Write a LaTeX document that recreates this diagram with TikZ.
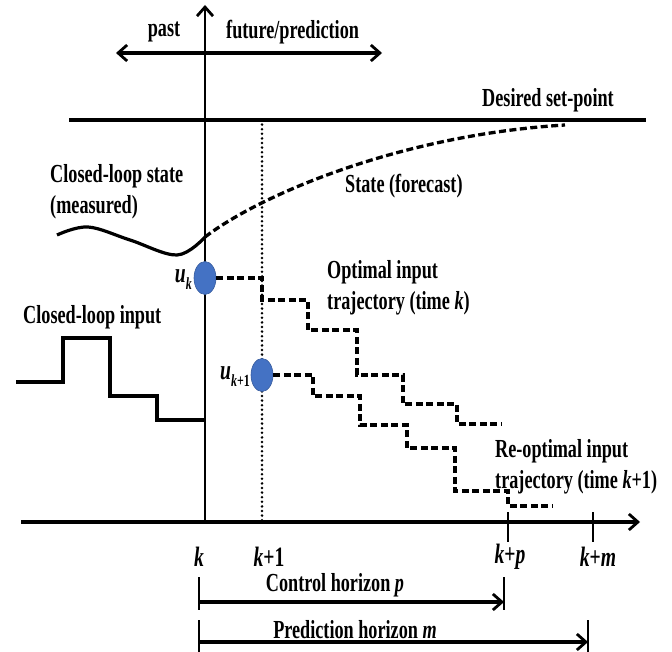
\documentclass[tikz,border=0pt]{standalone}
\usepackage{fontspec}
\setmainfont{Liberation Serif}[FakeStretch=0.7]
\usetikzlibrary{arrows.meta}
\usetikzlibrary{shapes.geometric}
\definecolor{dotblue}{RGB}{68,114,196}
\newcommand{\subtxt}[1]{\raisebox{-0.55ex}{\fontsize{17}{17}\selectfont #1}}
\tikzset{
  lbl/.style={inner sep=0pt, font=\fontsize{26}{31}\selectfont\bfseries, align=left},
  axlbl/.style={inner sep=0pt, font=\fontsize{28}{30}\selectfont\bfseries},
  axisline/.style={line width=3.4pt},
  thinaxis/.style={line width=2.5pt},
  solidcurve/.style={line width=3.2pt},
  dashcurve/.style={line width=3.3pt, dash pattern=on 7pt off 3.5pt},
  trajdash/.style={line width=3.2pt, dash pattern=on 7pt off 3.5pt},
  dotline/.style={line width=2.8pt, line cap=round, dash pattern=on 0pt off 4.6pt},
  tip/.style={-{Straight Barb[length=9pt,width=16pt,line width=2.8pt]}},
  dtip/.style={{Straight Barb[length=9pt,width=16pt,line width=2.8pt]}-{Straight Barb[length=9pt,width=16pt,line width=2.8pt]}},
  udot/.style={ellipse, fill=dotblue, draw=dotblue!80!black, line width=0.6pt, minimum width=22pt, minimum height=33pt, inner sep=0pt},
}
\begin{document}
\begin{tikzpicture}[x=1pt,y=-1pt]
\useasboundingbox (0,0) rectangle (672,652);
% coordinates
\coordinate (origin) at (205,522);
\coordinate (vtop) at (205,5);
\coordinate (hleft) at (21,522);
\coordinate (hright) at (640,522);
\coordinate (pastL) at (116,53);
\coordinate (futR) at (382,53);
\coordinate (spL) at (69,120);
\coordinate (spR) at (646,120);
\coordinate (dotT) at (262,120);
\coordinate (dotB) at (262,522);
\coordinate (tpT) at (508,512);
\coordinate (tpB) at (508,542);
\coordinate (tmT) at (593,512);
\coordinate (tmB) at (593,542);

% axes
\draw[axisline, tip] (hleft) -- (hright);
\draw[thinaxis, tip] (origin) -- (vtop);
\draw[axisline, dtip] (pastL) -- (futR);
\draw[axisline] (spL) -- (spR);
\draw[dotline] (dotT) -- (dotB);
\draw[thinaxis] (tpT) -- (tpB);
\draw[thinaxis] (tmT) -- (tmB);

% state curves
\draw[solidcurve] plot[smooth, tension=0.6] coordinates {(57,235) (88,227) (130,240) (177,255) (205,237)};
\draw[dashcurve] (205,237) .. controls (260,195) and (400,135) .. (565,125);

% closed-loop input
\draw[solidcurve] (16,382) -- (63,382) -- (63,338) -- (110,338) -- (110,396) -- (157,396) -- (157,420) -- (205,420);

% input dots
\node[udot] (uk) at (205,278) {};
\node[udot] (uk1) at (262,375) {};

% optimal trajectory (time k)
\draw[trajdash] (uk.east) -- (262,278) -- (262,300) -- (308,300) -- (308,330) -- (357,330) -- (357,375) -- (403,375) -- (403,404) -- (457,404) -- (457,424) -- (502,424);
% re-optimal trajectory (time k+1)
\draw[trajdash] (uk1.east) -- (313,375) -- (313,396) -- (360,396) -- (360,425) -- (407,425) -- (407,448) -- (455,448) -- (455,491) -- (508,491) -- (508,506) -- (553,506);

% texts
\node[lbl] (past) at (164,32) {past};
\node[lbl, anchor=west] (future) at (226,32) {future/prediction};
\node[lbl, anchor=east] (setpt) at (614,100) {Desired set-point};
\node[lbl, anchor=west] (cls) at (50,192) {Closed-loop state\\(measured)};
\node[lbl, anchor=west] (fc) at (345,186) {State (forecast)};
\node[lbl, anchor=west] (opt) at (327,288) {Optimal input\\trajectory (time \textit{k})};
\node[lbl, anchor=west] (reopt) at (495,467) {Re-optimal input\\trajectory (time \textit{k}+1)};
\node[lbl, anchor=west] (cli) at (23,317) {Closed-loop input};
\node[axlbl, anchor=east] (ukl) at (192,280) {\textit{u}\subtxt{\textit{k}}};
\node[axlbl, anchor=east] (uk1l) at (250,377) {\textit{u}\subtxt{\textit{k}+1}};

\node[axlbl] (lk) at (199,557) {\textit{k}};
\node[axlbl] (lk1) at (269,557) {\textit{k}+1};
\node[axlbl] (lkp) at (510,557) {\textit{k}+\textit{p}};
\node[axlbl] (lkm) at (598,557) {\textit{k}+\textit{m}};

% horizons
\coordinate (chT) at (199,577);
\coordinate (chB) at (199,610);
\coordinate (chA) at (199,602);
\coordinate (chE) at (504,602);
\coordinate (chET) at (504,577);
\coordinate (chEB) at (504,610);
\draw[thinaxis] (chT) -- (chB);
\draw[thinaxis] (chET) -- (chEB);
\draw[axisline, tip] (chA) -- (chE);
\node[lbl] (ch) at (335,585) {Control horizon \textit{p}};

\coordinate (phT) at (199,620);
\coordinate (phB) at (199,652);
\coordinate (phA) at (199,642);
\coordinate (phE) at (588,642);
\coordinate (phET) at (588,620);
\coordinate (phEB) at (588,652);
\draw[thinaxis] (phT) -- (phB);
\draw[thinaxis] (phET) -- (phEB);
\draw[axisline, tip] (phA) -- (phE);
\node[lbl] (ph) at (355,630) {Prediction horizon \textit{m}};
\end{tikzpicture}
\end{document}
